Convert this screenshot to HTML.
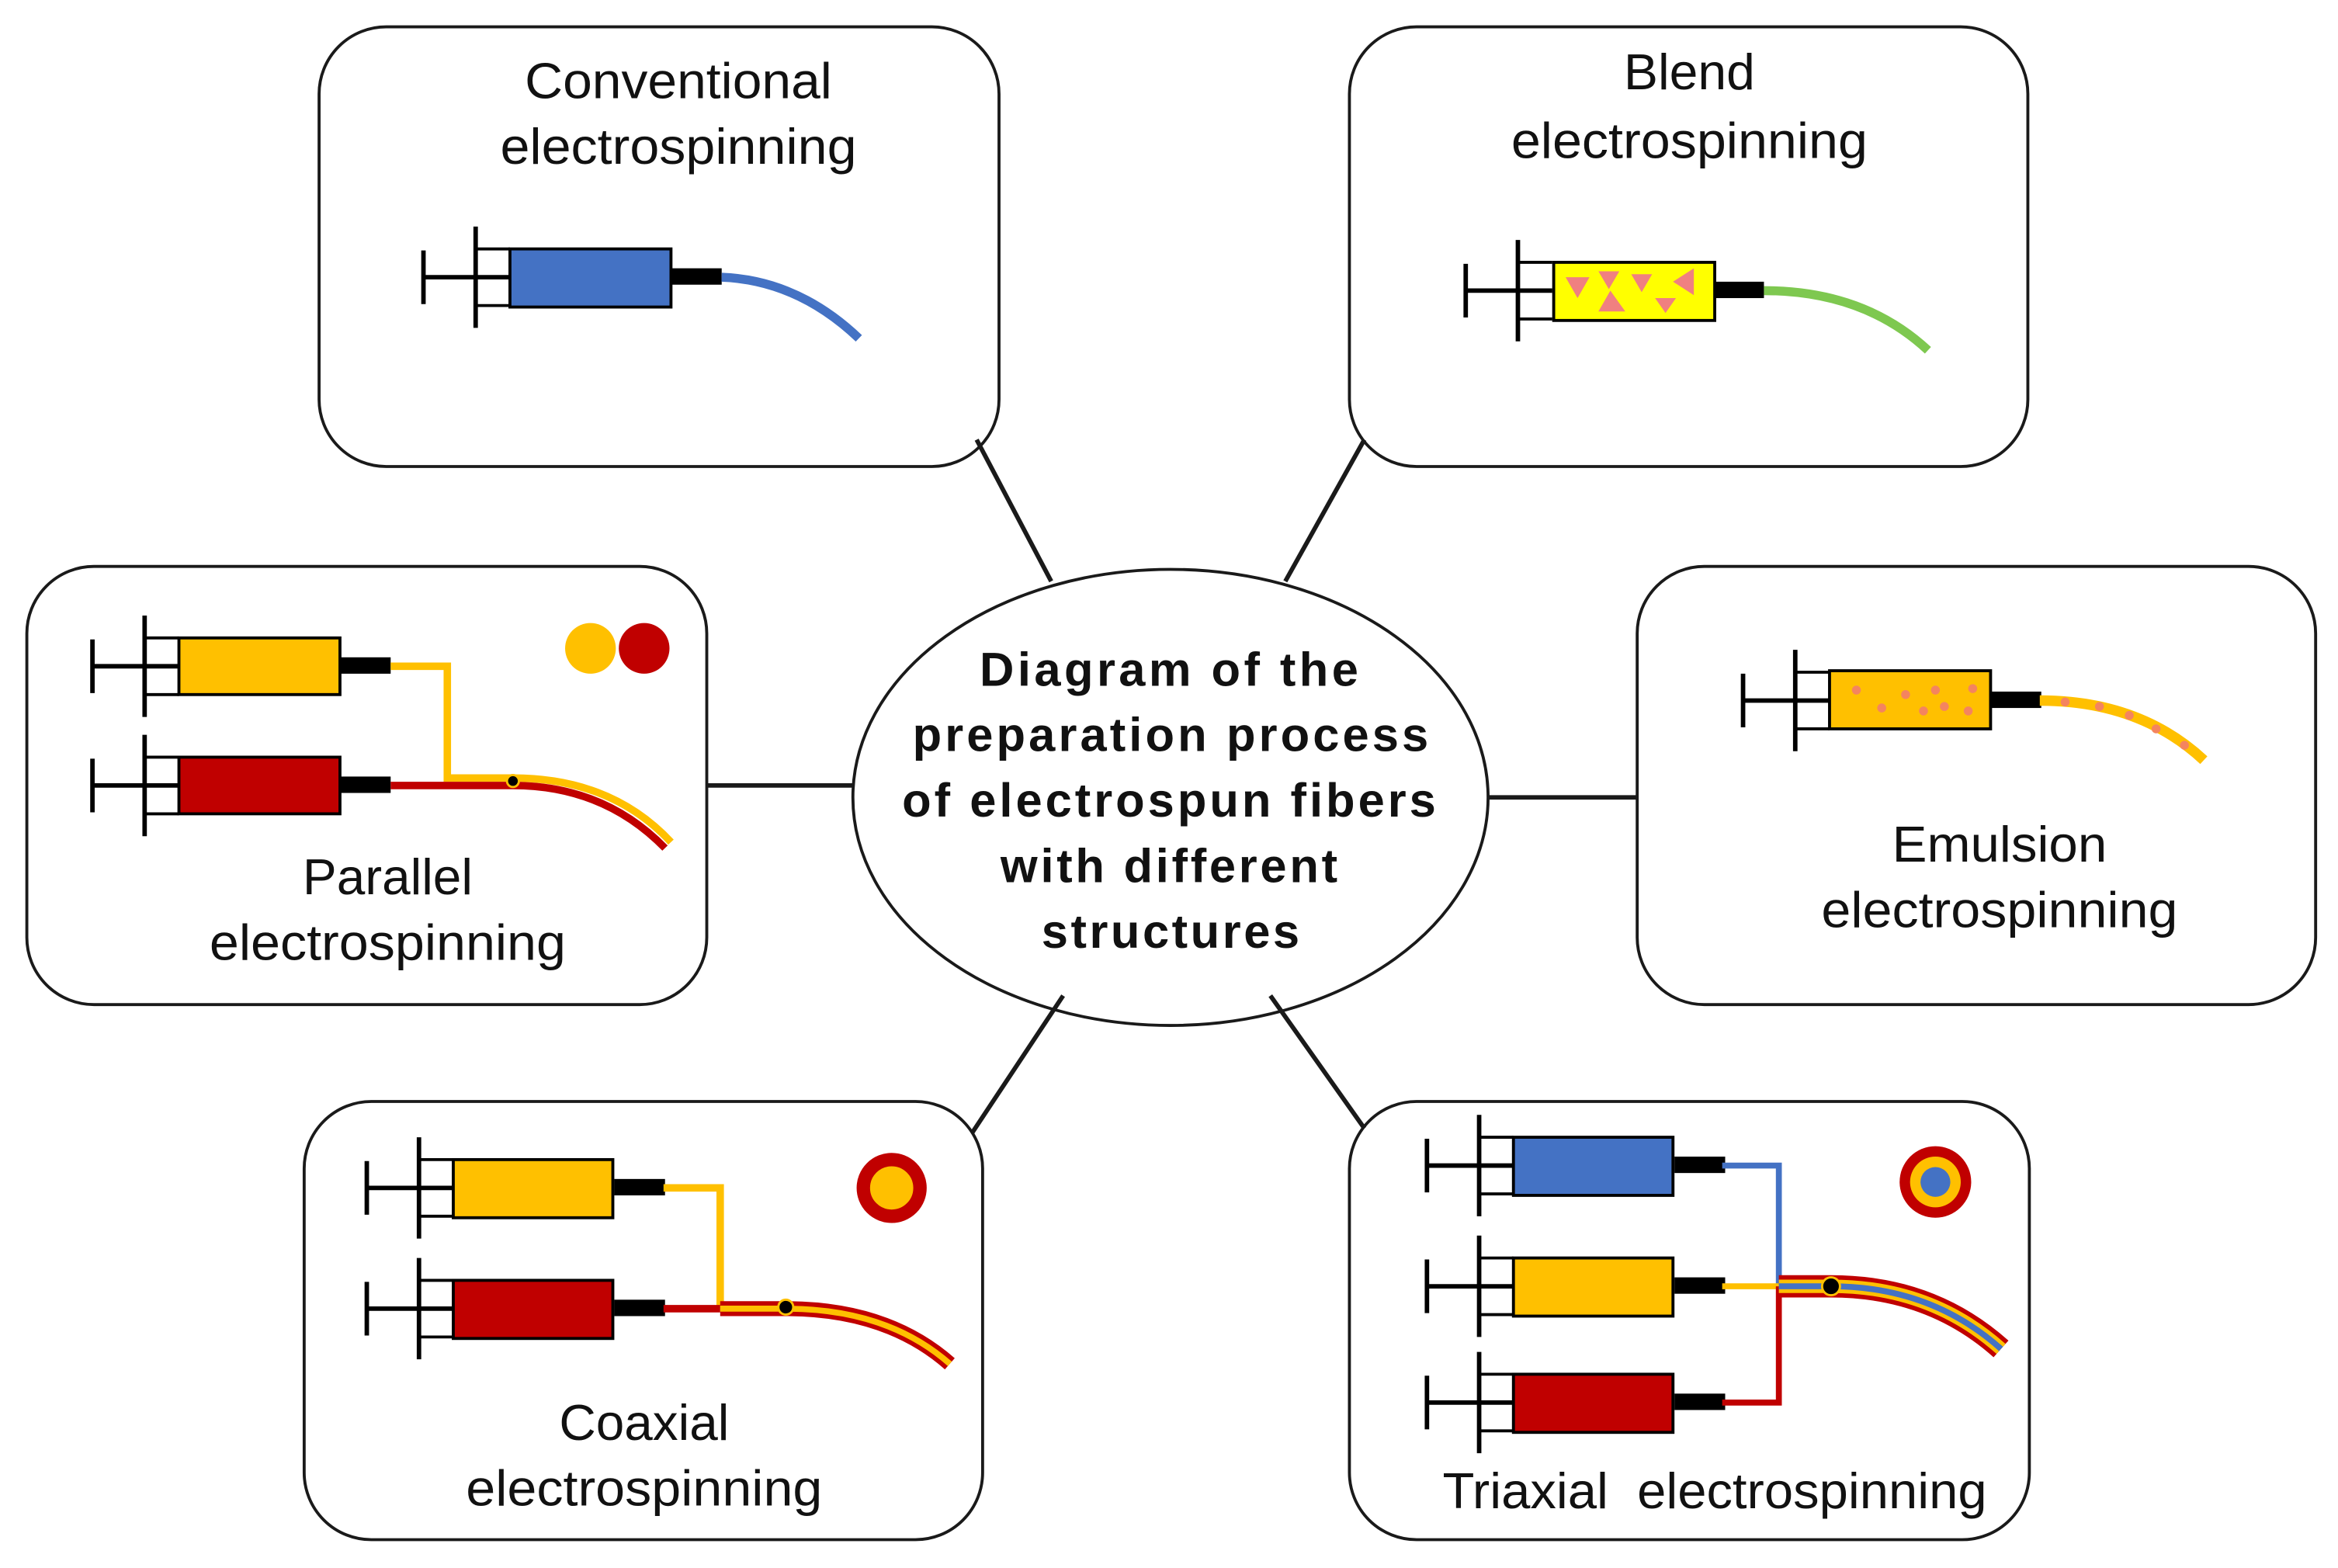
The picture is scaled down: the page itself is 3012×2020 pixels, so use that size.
<!DOCTYPE html>
<html><head><style>html,body{margin:0;padding:0;background:#fff}svg{display:block}</style></head><body>
<svg width="3012" height="2020" viewBox="0 0 1568 1052" preserveAspectRatio="none" xmlns="http://www.w3.org/2000/svg" font-family="Liberation Sans, sans-serif">
<defs>
<g id="syr">
<line x1="0" y1="-18" x2="0" y2="18" stroke="#000" stroke-width="3"/>
<line x1="0" y1="0" x2="58" y2="0" stroke="#000" stroke-width="3"/>
<line x1="35" y1="-34" x2="35" y2="34" stroke="#000" stroke-width="3"/>
<line x1="35" y1="-19" x2="58" y2="-19" stroke="#000" stroke-width="2"/>
<line x1="35" y1="19" x2="58" y2="19" stroke="#000" stroke-width="2"/>
<rect x="166" y="-6" width="34" height="11" fill="#000"/>
</g>
</defs>
<g fill="#fff" stroke="#1a1a1a" stroke-width="2">
<rect x="214" y="18" width="456" height="295" rx="45"/>
<rect x="905" y="18" width="455" height="295" rx="45"/>
<rect x="18" y="380" width="456" height="294" rx="45"/>
<rect x="1098" y="380" width="455" height="294" rx="45"/>
<rect x="204" y="739" width="455" height="294" rx="45"/>
<rect x="905" y="739" width="456" height="294" rx="45"/>
<ellipse cx="785" cy="535" rx="213" ry="153"/>
</g>
<g stroke="#1a1a1a" stroke-width="3">
<line x1="655" y1="295" x2="705" y2="390"/><line x1="915" y1="295" x2="862" y2="390"/>
<line x1="474" y1="527" x2="572" y2="527"/><line x1="998" y1="535" x2="1098" y2="535"/>
<line x1="713" y1="668" x2="652" y2="760"/><line x1="852" y1="668" x2="915" y2="757"/>
</g>
<g font-size="34" text-anchor="middle" fill="#111" lengthAdjust="spacingAndGlyphs">
<text x="455" y="66" textLength="206" lengthAdjust="spacingAndGlyphs">Conventional</text><text x="455" y="110" textLength="239" lengthAdjust="spacingAndGlyphs">electrospinning</text>
<text x="1133" y="60" textLength="88" lengthAdjust="spacingAndGlyphs">Blend</text><text x="1133" y="106" textLength="239" lengthAdjust="spacingAndGlyphs">electrospinning</text>
<text x="260" y="600" textLength="114" lengthAdjust="spacingAndGlyphs">Parallel</text><text x="260" y="644" textLength="239" lengthAdjust="spacingAndGlyphs">electrospinning</text>
<text x="1341" y="578" textLength="144" lengthAdjust="spacingAndGlyphs">Emulsion</text><text x="1341" y="622" textLength="239" lengthAdjust="spacingAndGlyphs">electrospinning</text>
<text x="432" y="966" textLength="114" lengthAdjust="spacingAndGlyphs">Coaxial</text><text x="432" y="1010" textLength="239" lengthAdjust="spacingAndGlyphs">electrospinning</text>
<text x="1150" y="1012" xml:space="preserve" textLength="365" lengthAdjust="spacingAndGlyphs">Triaxial  electrospinning</text>
</g>
<g font-size="32" font-weight="bold" text-anchor="middle" fill="#111">
<text x="784" y="460" textLength="254" lengthAdjust="spacing">Diagram of the</text>
<text x="785" y="504" textLength="346" lengthAdjust="spacing">preparation process</text>
<text x="784" y="548" textLength="358" lengthAdjust="spacing">of electrospun fibers</text>
<text x="784" y="592" textLength="226" lengthAdjust="spacing">with different</text>
<text x="785" y="636" textLength="173" lengthAdjust="spacing">structures</text>
</g>
<!-- conventional -->
<use href="#syr" x="284" y="186"/>
<rect x="342" y="167" width="108" height="39" fill="#4472c4" stroke="#000" stroke-width="2"/>
<path d="M484 186 Q535 188 576 227" fill="none" stroke="#4472c4" stroke-width="6"/>
<!-- blend -->
<use href="#syr" x="983" y="195"/>
<rect x="1042" y="176" width="108" height="39" fill="#ffff00" stroke="#000" stroke-width="2"/>
<g fill="#f08080"><path d="M1050 186l16 0-8 14z"/><path d="M1072 182l14 0-7 12z"/><path d="M1080 195l10 14-18 0z"/><path d="M1094 184l14 0-7 12z"/><path d="M1110 200l14 0-7 10z"/><path d="M1136 180l0 18-14-9z"/></g>
<path d="M1183 195 Q1250 195 1293 235" fill="none" stroke="#7ec850" stroke-width="6"/>
<!-- emulsion -->
<use href="#syr" x="1169" y="470"/>
<rect x="1227" y="450" width="108" height="39" fill="#ffc000" stroke="#000" stroke-width="2"/>
<g fill="#f4845f"><circle cx="1245" cy="463" r="3"/><circle cx="1262" cy="475" r="3"/><circle cx="1278" cy="466" r="3"/><circle cx="1290" cy="477" r="3"/><circle cx="1298" cy="463" r="3"/><circle cx="1304" cy="474" r="3"/><circle cx="1320" cy="477" r="3"/><circle cx="1323" cy="462" r="3"/></g>
<path d="M1368 470 Q1435 470 1478 510" fill="none" stroke="#ffc000" stroke-width="7"/>
<g fill="#f4845f"><circle cx="1385" cy="471" r="3"/><circle cx="1408" cy="474" r="3"/><circle cx="1428" cy="480" r="3"/><circle cx="1446" cy="489" r="3"/><circle cx="1465" cy="500" r="3"/></g>
<!-- parallel -->
<use href="#syr" x="62" y="447"/><use href="#syr" x="62" y="527"/>
<rect x="120" y="428" width="108" height="38" fill="#ffc000" stroke="#000" stroke-width="2"/>
<rect x="120" y="508" width="108" height="38" fill="#c00000" stroke="#000" stroke-width="2"/>
<path d="M262 447 H300 V522 H344 Q410 522 450 565" fill="none" stroke="#ffc000" stroke-width="5"/>
<path d="M262 527 H344 Q405 527 446 569" fill="none" stroke="#c00000" stroke-width="5"/>
<circle cx="344" cy="524" r="4" fill="#000" stroke="#ffc000" stroke-width="1.5"/>
<circle cx="396" cy="435" r="17" fill="#ffc000"/><circle cx="432" cy="435" r="17" fill="#c00000"/>
<!-- coaxial -->
<use href="#syr" x="246" y="797"/><use href="#syr" x="246" y="878"/>
<rect x="304" y="778" width="107" height="39" fill="#ffc000" stroke="#000" stroke-width="2"/>
<rect x="304" y="859" width="107" height="39" fill="#c00000" stroke="#000" stroke-width="2"/>
<path d="M445 797 H483 V878" fill="none" stroke="#ffc000" stroke-width="5"/>
<path d="M445 878 H483" fill="none" stroke="#c00000" stroke-width="5"/>
<path d="M483 878 H527 Q595 878 637 915" fill="none" stroke="#c00000" stroke-width="10"/>
<path d="M483 878 H527 Q595 878 637 915" fill="none" stroke="#ffc000" stroke-width="4"/>
<circle cx="527" cy="877" r="5" fill="#000" stroke="#ffc000" stroke-width="1.5"/>
<circle cx="598" cy="797" r="19" fill="#ffc000" stroke="#c00000" stroke-width="9"/>
<!-- triaxial -->
<use href="#syr" x="957" y="782"/><use href="#syr" x="957" y="863"/><use href="#syr" x="957" y="941"/>
<rect x="1015" y="763" width="107" height="39" fill="#4472c4" stroke="#000" stroke-width="2"/>
<rect x="1015" y="844" width="107" height="39" fill="#ffc000" stroke="#000" stroke-width="2"/>
<rect x="1015" y="922" width="107" height="39" fill="#c00000" stroke="#000" stroke-width="2"/>
<path d="M1155 782 H1193 V863" fill="none" stroke="#4472c4" stroke-width="4"/>
<path d="M1155 863 H1193" fill="none" stroke="#ffc000" stroke-width="4"/>
<path d="M1155 941 H1193 V863" fill="none" stroke="#c00000" stroke-width="4"/>
<path d="M1193 863 H1228 Q1295 863 1342 905" fill="none" stroke="#c00000" stroke-width="15"/>
<path d="M1193 863 H1228 Q1295 863 1342 905" fill="none" stroke="#ffc000" stroke-width="9"/>
<path d="M1193 863 H1228 Q1295 863 1342 905" fill="none" stroke="#4472c4" stroke-width="4"/>
<circle cx="1228" cy="863" r="6" fill="#000" stroke="#ffc000" stroke-width="1.5"/>
<circle cx="1298" cy="793" r="24" fill="#c00000"/><circle cx="1298" cy="793" r="17" fill="#ffc000"/><circle cx="1298" cy="793" r="10" fill="#4472c4"/>
</svg>
</body></html>
